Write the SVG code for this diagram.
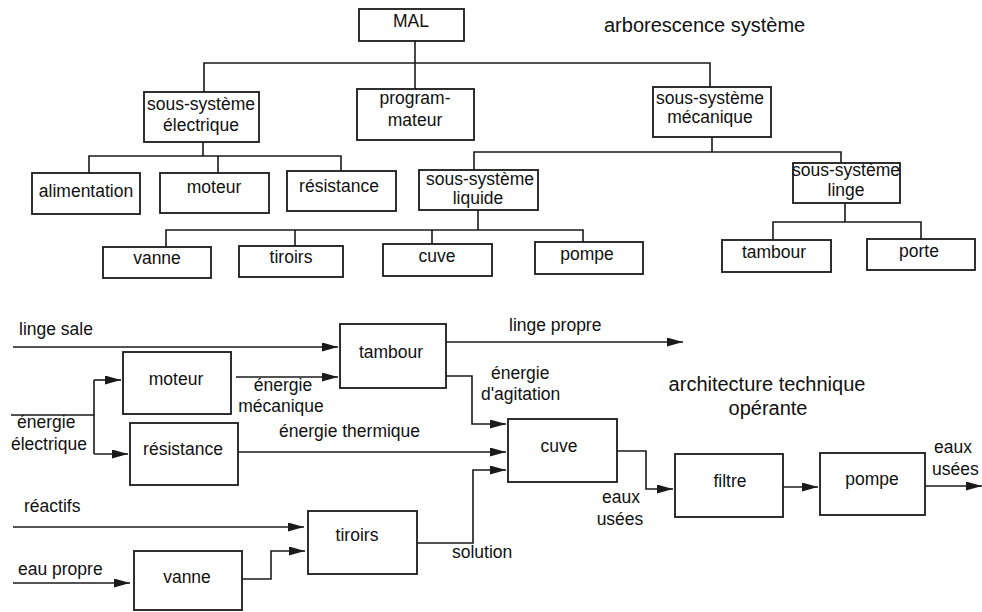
<svg xmlns="http://www.w3.org/2000/svg" width="982" height="612" viewBox="0 0 982 612">
<defs>
<style>
.box{fill:#fff;stroke:#1a1a1a;stroke-width:1.8}
.ln{fill:none;stroke:#1a1a1a;stroke-width:1.6}
.t{font-family:"Liberation Sans",Arial,sans-serif;font-size:17.5px;fill:#111}
.c{text-anchor:middle}
.title{font-size:20px}
</style>
<marker id="ah" markerWidth="16" markerHeight="9" refX="16" refY="4.5" orient="auto" markerUnits="userSpaceOnUse">
<path d="M0,0 L16,4.5 L0,9 z" fill="#1a1a1a"/>
</marker>
</defs>
<rect width="982" height="612" fill="#fff"/>

<!-- ===== arborescence système ===== -->
<text class="t title" x="604" y="32">arborescence système</text>

<g id="tree-connectors">
<path class="ln" d="M415 41V63M204 92V63H710V87M415 63V89"/>
<path class="ln" d="M203 142V156M89 173V156H341V171M218 156V173"/>
<path class="ln" d="M712 137V152M474 170V152H841V163"/>
<path class="ln" d="M478 210V230M166 247V230H583V242M295 230V246M432 230V244"/>
<path class="ln" d="M845 203V222M773 240V222H921V239"/>
</g>

<g id="t-mal"><rect class="box" x="359" y="9" width="105" height="32"/><text class="t c" x="411" y="27">MAL</text></g>
<g id="t-ss-electrique"><rect class="box" x="144" y="92" width="115" height="50"/><text class="t c" x="201" y="110">sous-système</text><text class="t c" x="201" y="131">électrique</text></g>
<g id="t-programmateur"><rect class="box" x="357" y="89" width="117" height="51"/><text class="t c" x="415" y="104">program-</text><text class="t c" x="415" y="126">mateur</text></g>
<g id="t-ss-mecanique"><rect class="box" x="653" y="87" width="118" height="50"/><text class="t c" x="710" y="104">sous-système</text><text class="t c" x="710" y="123">mécanique</text></g>
<g id="t-alimentation"><rect class="box" x="32" y="173" width="108" height="41"/><text class="t c" x="86" y="197">alimentation</text></g>
<g id="t-moteur"><rect class="box" x="160" y="173" width="109" height="40"/><text class="t c" x="214" y="193">moteur</text></g>
<g id="t-resistance"><rect class="box" x="287" y="171" width="109" height="40"/><text class="t c" x="339" y="192">résistance</text></g>
<g id="t-ss-liquide"><rect class="box" x="419" y="170" width="119" height="40"/><text class="t c" x="480" y="185">sous-système</text><text class="t c" x="478" y="204">liquide</text></g>
<g id="t-ss-linge"><rect class="box" x="793" y="163" width="107" height="40"/><text class="t c" x="846" y="176">sous-système</text><text class="t c" x="846" y="196">linge</text></g>
<g id="t-vanne"><rect class="box" x="103" y="247" width="108" height="31"/><text class="t c" x="157" y="264">vanne</text></g>
<g id="t-tiroirs"><rect class="box" x="239" y="246" width="104" height="31"/><text class="t c" x="291" y="263">tiroirs</text></g>
<g id="t-cuve"><rect class="box" x="383" y="244" width="109" height="32"/><text class="t c" x="437" y="262">cuve</text></g>
<g id="t-pompe"><rect class="box" x="535" y="242" width="108" height="32"/><text class="t c" x="587" y="260">pompe</text></g>
<g id="t-tambour"><rect class="box" x="722" y="240" width="109" height="32"/><text class="t c" x="774" y="258">tambour</text></g>
<g id="t-porte"><rect class="box" x="867" y="239" width="108" height="31"/><text class="t c" x="919" y="257">porte</text></g>

<!-- ===== architecture technique opérante ===== -->
<text class="t title c" x="767" y="391">architecture technique</text>
<text class="t title c" x="768" y="415">opérante</text>

<g id="flow-connectors">
<path class="ln" d="M13 347H338" marker-end="url(#ah)"/>
<path class="ln" d="M446 342H683" marker-end="url(#ah)"/>
<path class="ln" d="M11 415H94M94 380V454"/>
<path class="ln" d="M94 380H121" marker-end="url(#ah)"/>
<path class="ln" d="M94 454H128" marker-end="url(#ah)"/>
<path class="ln" d="M236 377H338" marker-end="url(#ah)"/>
<path class="ln" d="M238 452H506" marker-end="url(#ah)"/>
<path class="ln" d="M446 376H472V424H506" marker-end="url(#ah)"/>
<path class="ln" d="M417 543H473V470H506" marker-end="url(#ah)"/>
<path class="ln" d="M13 527H304" marker-end="url(#ah)"/>
<path class="ln" d="M13 583H130" marker-end="url(#ah)"/>
<path class="ln" d="M242 579H271V551H305" marker-end="url(#ah)"/>
<path class="ln" d="M617 451H646V489H673" marker-end="url(#ah)"/>
<path class="ln" d="M783 487H818" marker-end="url(#ah)"/>
<path class="ln" d="M925 486H982" marker-end="url(#ah)"/>

<text class="t" x="19" y="335">linge sale</text>
<text class="t" x="509" y="331">linge propre</text>
<text class="t" x="17" y="428">énergie</text>
<text class="t" x="11" y="450">électrique</text>
<text class="t c" x="283" y="391">énergie</text>
<text class="t c" x="281" y="412">mécanique</text>
<text class="t" x="279" y="437">énergie thermique</text>
<text class="t" x="491" y="379">énergie</text>
<text class="t" x="481" y="400">d'agitation</text>
<text class="t" x="452" y="558">solution</text>
<text class="t" x="24" y="512">réactifs</text>
<text class="t" x="18" y="575">eau propre</text>
<text class="t c" x="621" y="503">eaux</text>
<text class="t c" x="620" y="525">usées</text>
<text class="t" x="934" y="453">eaux</text>
<text class="t" x="932" y="475">usées</text>
</g>

<g id="f-tambour"><rect class="box" x="340" y="324" width="106" height="64"/><text class="t c" x="391" y="358">tambour</text></g>
<g id="f-moteur"><rect class="box" x="123" y="352" width="108" height="62"/><text class="t c" x="176" y="385">moteur</text></g>
<g id="f-resistance"><rect class="box" x="130" y="423" width="108" height="62"/><text class="t c" x="183" y="455">résistance</text></g>
<g id="f-cuve"><rect class="box" x="508" y="419" width="109" height="63"/><text class="t c" x="559" y="452">cuve</text></g>
<g id="f-tiroirs"><rect class="box" x="308" y="511" width="109" height="63"/><text class="t c" x="357" y="541">tiroirs</text></g>
<g id="f-vanne"><rect class="box" x="134" y="551" width="108" height="59"/><text class="t c" x="187" y="583">vanne</text></g>
<g id="f-filtre"><rect class="box" x="675" y="454" width="108" height="63"/><text class="t c" x="730" y="487">filtre</text></g>
<g id="f-pompe"><rect class="box" x="820" y="453" width="105" height="62"/><text class="t c" x="872" y="485">pompe</text></g>
</svg>
